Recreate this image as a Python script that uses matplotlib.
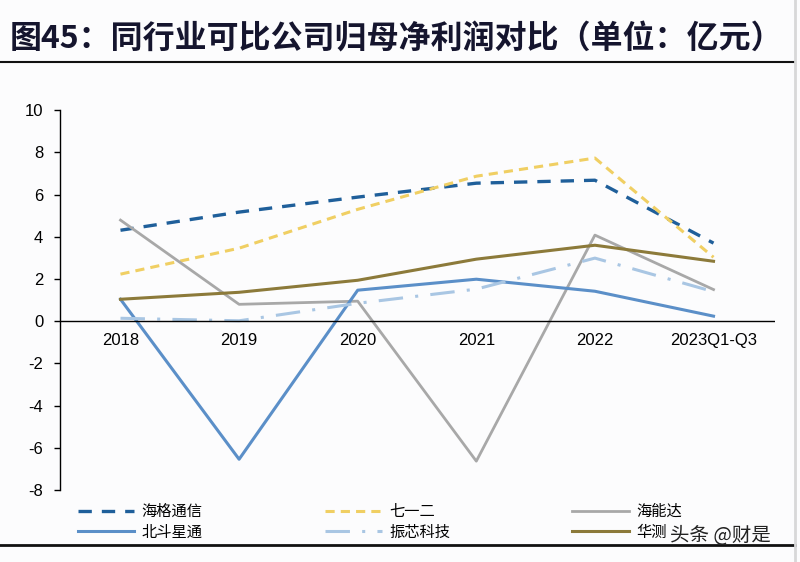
import matplotlib
matplotlib.use("Agg")
import matplotlib.pyplot as plt
from matplotlib.lines import Line2D

plt.rcParams['font.family'] = ['Liberation Sans', 'Noto Sans CJK SC', 'DejaVu Sans']

categories = ["2018", "2019", "2020", "2021", "2022", "2023Q1-Q3"]
haige = [4.31, 5.17, 5.88, 6.54, 6.68, 3.70]
qiyier = [2.23, 3.46, 5.30, 6.87, 7.73, 3.03]
hainengda = [4.79, 0.80, 0.95, -6.63, 4.08, 1.50]
beidou = [1.04, -6.54, 1.47, 1.99, 1.42, 0.24]
zhenxin = [0.14, 0.02, 0.85, 1.52, 2.99, 1.40]
huace = [1.04, 1.37, 1.94, 2.94, 3.60, 2.84]
yticks = [-8, -6, -4, -2, 0, 2, 4, 6, 8, 10]

fig = plt.figure(figsize=(8, 5.62), dpi=100, facecolor='#fcfcfd')
ax = fig.add_axes([0.075, 0.128, 0.894, 0.676])
ax.set_facecolor('none')
x = list(range(len(categories)))

ax.plot(x, haige, color='#1f5f9a', lw=2.4, dashes=(4, 3), label='海格通信')
ax.plot(x, qiyier, color='#f0cf63', lw=2.2, dashes=(3, 2), label='七一二')
ax.plot(x, hainengda, color='#a8a8a8', lw=2.0, label='海能达')
ax.plot(x, beidou, color='#5b8fc8', lw=2.2, label='北斗星通')
ax.plot(x, zhenxin, color='#a9c6e3', lw=2.2, dashes=(8, 4, 1, 4), label='振芯科技')
ax.plot(x, huace, color='#8c7a3a', lw=2.2, label='华测')

ax.set_ylim(-8, 10)
ax.set_xlim(-0.51, 5.52)
ax.set_yticks(yticks)
ax.set_yticklabels([str(v) for v in yticks], fontsize=12)
ax.set_xticks([])
for xi, c in zip(x, categories):
    ax.text(xi, -0.55, c, ha='center', va='top', fontsize=12)
for s in ['top', 'right', 'bottom']:
    ax.spines[s].set_visible(False)
ax.spines['left'].set_linewidth(1.0)
ax.axhline(0, color='black', lw=1.0)
ax.tick_params(axis='y', direction='out', length=4, width=1.0, pad=8)

handles, labels = ax.get_legend_handles_labels()
order = [0, 3, 1, 4, 2, 5]
leg = fig.legend([handles[i] for i in order], [labels[i] for i in order],
                 ncol=3, loc='upper left', bbox_to_anchor=(0.097, 0.105),
                 frameon=False, handlelength=3.7, handletextpad=0.5,
                 columnspacing=8.0, borderaxespad=0, borderpad=0, labelspacing=0.25,
                 prop={'family': ['Noto Sans CJK SC', 'DejaVu Sans'], 'size': 11})

fig.text(0.838, 0.048, '头条 @财是', fontsize=14, color='#222222',
         family=['Noto Sans CJK SC', 'DejaVu Sans'], va='center', ha='left')

fig.text(0.012, 0.93, '图45：同行业可比公司归母净利润对比（单位：亿元）', fontsize=23,
         fontweight='bold', color='#15152e', family=['Noto Sans CJK SC', 'DejaVu Sans'],
         va='center', ha='left')

fig.add_artist(Line2D([0, 0.994], [0.889, 0.889], color='#111111', lw=1.5, transform=fig.transFigure))
fig.add_artist(Line2D([0, 0.994], [0.03, 0.03], color='#111111', lw=2.0, transform=fig.transFigure))
fig.add_artist(Line2D([0.994, 0.994], [0, 1], color='#d8d8d8', lw=2.0, transform=fig.transFigure))

fig.savefig('out.png', dpi=100, facecolor=fig.get_facecolor())
